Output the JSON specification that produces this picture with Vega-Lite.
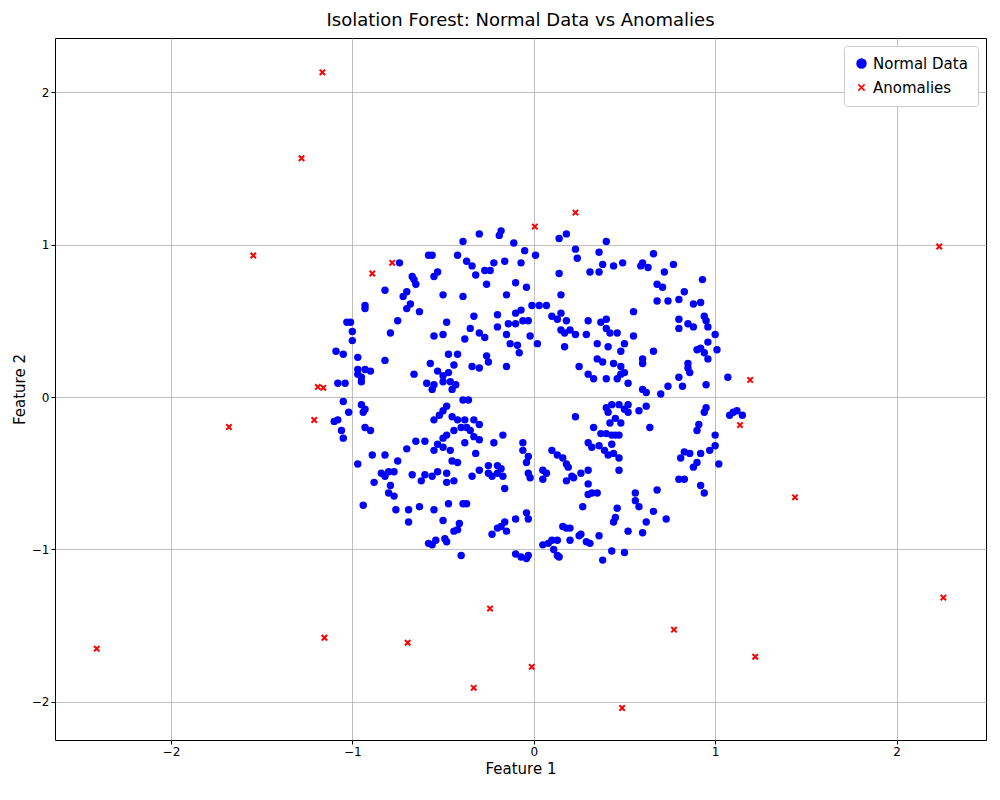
{
  "$schema": "https://vega.github.io/schema/vega-lite/v6.json",
  "width": 1000,
  "height": 800,
  "autosize": {"type": "fit", "contains": "padding"},
  "padding": {"left": 12, "right": 14, "top": 12, "bottom": 24},
  "background": "white",
  "title": {"text": "Isolation Forest: Normal Data vs Anomalies", "fontSize": 18, "fontWeight": "normal", "font": "DejaVu Sans", "color": "black", "offset": 8},
  "config": {
    "font": "DejaVu Sans",
    "view": {"stroke": "black", "strokeWidth": 1},
    "axis": {"grid": true, "gridColor": "#b0b0b0", "gridWidth": 0.8, "domain": false, "tickColor": "black", "labelFontSize": 12, "labelColor": "black", "titleFontSize": 15, "titleFontWeight": "normal", "titleColor": "black", "tickSize": 4, "format": "d"},
    "legend": {"orient": "top-right", "labelFontSize": 15, "title": null, "strokeColor": "#cccccc", "fillColor": "white", "padding": 10, "cornerRadius": 3, "symbolSize": 80, "rowPadding": 8, "offset": 8}
  },
  "datasets": {
    "normal": [
{"x":-0.39,"y":1.02},{"x":-0.3,"y":1.07},{"x":-0.19,"y":1.06},{"x":-0.18,"y":1.09},{"x":-0.11,"y":1.01},{"x":-0.05,"y":0.96},{"x":0.01,"y":0.93},{"x":0.14,"y":1.04},{"x":0.18,"y":1.07},{"x":0.23,"y":0.97},{"x":0.24,"y":0.91},{"x":0.4,"y":1.02},{"x":0.36,"y":0.95},{"x":0.38,"y":0.87},{"x":0.36,"y":0.82},{"x":0.44,"y":0.86},{"x":0.31,"y":0.82},{"x":0.14,"y":0.81},{"x":-0.07,"y":0.88},{"x":-0.22,"y":0.88},{"x":-0.16,"y":0.89},{"x":-0.34,"y":0.86},{"x":-0.32,"y":0.8},{"x":-0.27,"y":0.83},{"x":-0.42,"y":0.93},{"x":-0.37,"y":0.89},{"x":-0.58,"y":0.93},{"x":-0.56,"y":0.93},{"x":-0.53,"y":0.82},{"x":-0.67,"y":0.79},{"x":-0.74,"y":0.88},{"x":-0.82,"y":0.7},{"x":-0.7,"y":0.69},{"x":-0.72,"y":0.66},{"x":0.6,"y":0.88},{"x":0.66,"y":0.94},{"x":0.63,"y":0.85},{"x":0.72,"y":0.82},{"x":0.77,"y":0.87},{"x":0.49,"y":0.88},{"x":0.59,"y":0.86},
{"x":0.93,"y":0.77},{"x":0.8,"y":0.64},{"x":0.83,"y":0.69},{"x":0.88,"y":0.61},{"x":0.92,"y":0.62},{"x":0.95,"y":0.5},{"x":0.94,"y":0.53},{"x":0.96,"y":0.46},{"x":0.85,"y":0.48},{"x":0.88,"y":0.46},{"x":0.8,"y":0.45},{"x":0.8,"y":0.51},{"x":0.74,"y":0.63},{"x":0.68,"y":0.63},{"x":0.68,"y":0.74},{"x":0.71,"y":0.72},{"x":1.0,"y":0.41},{"x":1.01,"y":0.31},{"x":0.96,"y":0.36},{"x":0.92,"y":0.32},{"x":0.9,"y":0.31},{"x":0.96,"y":0.25},{"x":0.94,"y":0.29},{"x":0.85,"y":0.22},{"x":0.85,"y":0.19},{"x":0.86,"y":0.16},{"x":0.8,"y":0.13},{"x":0.82,"y":0.07},{"x":0.95,"y":0.08},{"x":0.74,"y":0.07},{"x":0.7,"y":0.02},{"x":1.07,"y":0.13},{"x":0.66,"y":0.3},{"x":0.6,"y":0.25},{"x":0.6,"y":0.22},{"x":0.6,"y":0.05},{"x":0.62,"y":0.03},{"x":0.55,"y":0.56},{"x":0.55,"y":0.4},{"x":0.5,"y":0.35},{"x":0.48,"y":0.3},{"x":0.46,"y":0.42},{"x":0.42,"y":0.42},{"x":0.4,"y":0.45},{"x":0.4,"y":0.51},{"x":0.37,"y":0.49},{"x":0.35,"y":0.35},{"x":0.41,"y":0.33},{"x":0.38,"y":0.23},{"x":0.44,"y":0.22},{"x":0.48,"y":0.2},{"x":0.48,"y":0.15},{"x":0.5,"y":0.16},{"x":0.46,"y":0.12},{"x":0.4,"y":0.12},{"x":0.33,"y":0.12},{"x":0.3,"y":0.15},{"x":0.29,"y":0.41},{"x":0.3,"y":0.5},{"x":0.23,"y":0.41},{"x":0.2,"y":0.44},{"x":0.17,"y":0.42},{"x":0.15,"y":0.44},{"x":0.13,"y":0.51},{"x":0.15,"y":0.55},{"x":0.18,"y":0.5},{"x":0.15,"y":0.67},{"x":0.1,"y":0.53},{"x":0.17,"y":0.33},{"x":0.25,"y":0.2},{"x":0.35,"y":0.25},{"x":0.52,"y":0.09},
{"x":1.1,"y":-0.1},{"x":1.12,"y":-0.09},{"x":1.15,"y":-0.12},{"x":1.08,"y":-0.12},{"x":1.0,"y":-0.25},{"x":1.0,"y":-0.32},{"x":0.97,"y":-0.35},{"x":1.02,"y":-0.44},{"x":0.94,"y":-0.1},{"x":0.95,"y":-0.07},{"x":0.91,"y":-0.18},{"x":0.9,"y":-0.22},{"x":0.92,"y":-0.37},{"x":0.9,"y":-0.43},{"x":0.88,"y":-0.46},{"x":0.92,"y":-0.58},{"x":0.94,"y":-0.63},{"x":0.83,"y":-0.54},{"x":0.8,"y":-0.54},{"x":0.81,"y":-0.4},{"x":0.83,"y":-0.36},{"x":0.86,"y":-0.37},{"x":0.73,"y":-0.8},{"x":0.68,"y":-0.61},{"x":0.66,"y":-0.75},{"x":0.62,"y":-0.82},{"x":0.6,"y":-0.89},{"x":0.58,"y":-0.72},{"x":0.56,"y":-0.68},{"x":0.56,"y":-0.63},{"x":0.64,"y":-0.2},{"x":0.62,"y":-0.06},{"x":0.58,"y":-0.09},
{"x":0.4,"y":-0.07},{"x":0.41,"y":-0.1},{"x":0.43,"y":-0.05},{"x":0.47,"y":-0.05},{"x":0.5,"y":-0.08},{"x":0.52,"y":-0.05},{"x":0.52,"y":-0.1},{"x":0.45,"y":-0.14},{"x":0.42,"y":-0.17},{"x":0.48,"y":-0.17},{"x":0.4,"y":-0.24},{"x":0.43,"y":-0.25},{"x":0.45,"y":-0.25},{"x":0.47,"y":-0.25},{"x":0.37,"y":-0.24},{"x":0.36,"y":-0.32},{"x":0.33,"y":-0.2},{"x":0.3,"y":-0.3},{"x":0.32,"y":-0.33},{"x":0.39,"y":-0.35},{"x":0.43,"y":-0.31},{"x":0.44,"y":-0.37},{"x":0.47,"y":-0.4},{"x":0.41,"y":-0.38},{"x":0.23,"y":-0.13},{"x":0.47,"y":-0.48},{"x":0.3,"y":-0.48},{"x":0.16,"y":-0.4},{"x":0.18,"y":-0.44},{"x":0.19,"y":-0.46},{"x":0.1,"y":-0.35},{"x":0.13,"y":-0.38},
{"x":0.05,"y":-0.54},{"x":0.07,"y":-0.5},{"x":0.05,"y":-0.48},{"x":0.18,"y":-0.55},{"x":0.21,"y":-0.52},{"x":0.26,"y":-0.5},{"x":0.3,"y":-0.57},{"x":0.3,"y":-0.64},{"x":0.32,"y":-0.63},{"x":0.35,"y":-0.63},{"x":0.27,"y":-0.72},{"x":0.46,"y":-0.73},{"x":0.44,"y":-0.82},{"x":0.45,"y":-0.79},{"x":0.52,"y":-0.88},{"x":0.36,"y":-0.91},{"x":0.31,"y":-0.96},{"x":0.29,"y":-0.95},{"x":0.25,"y":-0.91},{"x":0.26,"y":-0.9},{"x":0.16,"y":-0.85},{"x":0.18,"y":-0.86},{"x":0.2,"y":-0.94},{"x":0.13,"y":-0.94},{"x":0.13,"y":-1.04},{"x":0.14,"y":-1.05},{"x":0.11,"y":-1.0},{"x":0.1,"y":-0.94},{"x":0.05,"y":-0.97},{"x":0.08,"y":-0.96},{"x":0.2,"y":-0.86},{"x":0.38,"y":-1.07},{"x":0.43,"y":-1.01},{"x":0.5,"y":-1.02},{"x":0.22,"y":-0.53},
{"x":-0.03,"y":-1.04},{"x":-0.04,"y":-1.06},{"x":-0.07,"y":-1.05},{"x":-0.1,"y":-1.03},{"x":-0.03,"y":-0.8},{"x":-0.04,"y":-0.76},{"x":-0.1,"y":-0.8},{"x":-0.16,"y":-0.82},{"x":-0.18,"y":-0.85},{"x":-0.15,"y":-0.88},{"x":-0.2,"y":-0.86},{"x":-0.23,"y":-0.9},{"x":-0.16,"y":-0.6},{"x":-0.2,"y":-0.5},{"x":-0.18,"y":-0.47},{"x":-0.2,"y":-0.45},{"x":-0.25,"y":-0.45},{"x":-0.25,"y":-0.5},{"x":-0.23,"y":-0.52},{"x":-0.17,"y":-0.52},{"x":-0.22,"y":-0.3},{"x":-0.17,"y":-0.25},{"x":-0.03,"y":-0.5},{"x":-0.02,"y":-0.53},{"x":-0.04,"y":-0.43},{"x":-0.03,"y":-0.39},{"x":-0.06,"y":-0.3},{"x":-0.06,"y":-0.35},{"x":-0.37,"y":-0.7},{"x":-0.39,"y":-0.7},{"x":-0.47,"y":-0.7},{"x":-0.55,"y":-0.74},{"x":-0.5,"y":-0.81},{"x":-0.41,"y":-0.83},{"x":-0.42,"y":-0.87},{"x":-0.44,"y":-0.88},{"x":-0.49,"y":-0.93},{"x":-0.48,"y":-0.95},{"x":-0.54,"y":-0.94},{"x":-0.58,"y":-0.96},{"x":-0.56,"y":-0.97},{"x":-0.4,"y":-1.04},{"x":-0.48,"y":-0.56},{"x":-0.44,"y":-0.55},{"x":-0.48,"y":-0.5},{"x":-0.53,"y":-0.49},{"x":-0.56,"y":-0.52},{"x":-0.6,"y":-0.51},{"x":-0.62,"y":-0.55},{"x":-0.63,"y":-0.72},{"x":-0.67,"y":-0.51},{"x":-0.69,"y":-0.74},{"x":-0.69,"y":-0.82},{"x":-0.76,"y":-0.74},{"x":-0.77,"y":-0.65},{"x":-0.8,"y":-0.63},{"x":-0.79,"y":-0.58},{"x":-0.82,"y":-0.52},{"x":-0.8,"y":-0.49},{"x":-0.77,"y":-0.49},{"x":-0.84,"y":-0.5},{"x":-0.88,"y":-0.56},{"x":-0.82,"y":-0.38},{"x":-0.75,"y":-0.42},{"x":-0.7,"y":-0.34},{"x":-0.65,"y":-0.29},{"x":-0.6,"y":-0.29},{"x":-0.3,"y":-0.48},{"x":-0.34,"y":-0.52},
{"x":-1.05,"y":-0.27},{"x":-1.06,"y":-0.22},{"x":-1.08,"y":-0.15},{"x":-1.1,"y":-0.16},{"x":-1.02,"y":-0.1},{"x":-1.05,"y":-0.03},{"x":-0.97,"y":-0.44},{"x":-0.94,"y":-0.71},{"x":-0.93,"y":-0.2},{"x":-0.9,"y":-0.22},{"x":-0.89,"y":-0.38},{"x":-0.94,"y":-0.1},{"x":-0.93,"y":-0.08},{"x":-0.95,"y":-0.05},{"x":-1.04,"y":0.09},{"x":-1.08,"y":0.09},{"x":-1.05,"y":0.28},{"x":-1.09,"y":0.3},{"x":-1.0,"y":0.37},{"x":-1.0,"y":0.43},{"x":-1.03,"y":0.49},{"x":-1.01,"y":0.49},{"x":-0.93,"y":0.6},{"x":-0.93,"y":0.58},{"x":-0.97,"y":0.26},{"x":-0.97,"y":0.18},{"x":-0.97,"y":0.15},{"x":-0.93,"y":0.18},{"x":-0.9,"y":0.17},{"x":-0.95,"y":0.1},{"x":-0.95,"y":0.13},{"x":-0.82,"y":0.24},{"x":-0.79,"y":0.42},{"x":-0.75,"y":0.5},{"x":-0.7,"y":0.58},{"x":-0.68,"y":0.61},{"x":-0.63,"y":0.56},{"x":-0.66,"y":0.77},{"x":-0.65,"y":0.74},{"x":-0.55,"y":0.79},{"x":-0.48,"y":0.49},{"x":-0.5,"y":0.41},{"x":-0.55,"y":0.4},{"x":-0.57,"y":0.22},{"x":-0.66,"y":0.15},{"x":-0.59,"y":0.09},{"x":-0.55,"y":0.08},{"x":-0.56,"y":0.05},{"x":-0.53,"y":0.17},{"x":-0.5,"y":0.14},{"x":-0.47,"y":0.16},{"x":-0.44,"y":0.21},{"x":-0.47,"y":0.28},{"x":-0.42,"y":0.28},{"x":-0.38,"y":0.38},{"x":-0.35,"y":0.45},{"x":-0.33,"y":0.53},{"x":-0.3,"y":0.42},{"x":-0.27,"y":0.39},{"x":-0.3,"y":0.19},{"x":-0.34,"y":0.2},{"x":-0.25,"y":0.23},{"x":-0.26,"y":0.27},{"x":-0.2,"y":0.46},{"x":-0.2,"y":0.54},{"x":-0.15,"y":0.41},{"x":-0.14,"y":0.48},{"x":-0.1,"y":0.48},{"x":-0.1,"y":0.55},{"x":-0.06,"y":0.5},{"x":-0.07,"y":0.57},{"x":-0.03,"y":0.5},{"x":-0.01,"y":0.6},{"x":0.03,"y":0.6},{"x":0.07,"y":0.6},{"x":-0.13,"y":0.35},{"x":-0.09,"y":0.34},{"x":-0.08,"y":0.29},{"x":-0.15,"y":0.2},{"x":-0.02,"y":0.4},{"x":0.02,"y":0.35},{"x":-0.15,"y":0.67},{"x":-0.1,"y":0.75},{"x":-0.04,"y":0.72},{"x":-0.26,"y":0.74},{"x":-0.24,"y":0.83},{"x":-0.39,"y":0.66},{"x":-0.5,"y":0.67},
{"x":-0.55,"y":-0.15},{"x":-0.52,"y":-0.12},{"x":-0.5,"y":-0.09},{"x":-0.48,"y":-0.06},{"x":-0.45,"y":-0.13},{"x":-0.42,"y":-0.15},{"x":-0.4,"y":-0.2},{"x":-0.44,"y":-0.22},{"x":-0.48,"y":-0.25},{"x":-0.5,"y":-0.27},{"x":-0.53,"y":-0.31},{"x":-0.55,"y":-0.35},{"x":-0.5,"y":-0.33},{"x":-0.46,"y":-0.35},{"x":-0.45,"y":-0.42},{"x":-0.42,"y":-0.43},{"x":-0.38,"y":-0.3},{"x":-0.35,"y":-0.22},{"x":-0.33,"y":-0.26},{"x":-0.3,"y":-0.28},{"x":-0.32,"y":-0.37},{"x":-0.36,"y":-0.02},{"x":-0.37,"y":-0.2},{"x":-0.33,"y":-0.15},{"x":-0.3,"y":-0.18},{"x":-0.38,"y":-0.15},{"x":-0.45,"y":0.05},{"x":-0.43,"y":0.08},{"x":-0.46,"y":0.1},{"x":-0.5,"y":0.1},{"x":-0.39,"y":-0.02}
    ],
    "anomalies": [
{"x":-1.165,"y":2.13},{"x":-1.28,"y":1.566},{"x":-1.546,"y":0.928},{"x":-0.89,"y":0.81},{"x":-0.78,"y":0.88},{"x":0.006,"y":1.118},{"x":0.23,"y":1.21},{"x":2.235,"y":0.987},{"x":-1.19,"y":0.066},{"x":-1.16,"y":0.06},{"x":-1.68,"y":-0.197},{"x":-1.21,"y":-0.151},{"x":1.193,"y":0.112},{"x":1.137,"y":-0.184},{"x":1.44,"y":-0.658},{"x":2.258,"y":-1.316},{"x":-2.409,"y":-1.651},{"x":-1.154,"y":-1.579},{"x":-0.695,"y":-1.612},{"x":-0.241,"y":-1.388},{"x":-0.011,"y":-1.77},{"x":-0.331,"y":-1.908},{"x":0.487,"y":-2.04},{"x":0.773,"y":-1.526},{"x":1.221,"y":-1.704}
    ]
  },
  "layer": [
    {
      "data": {"name": "normal"},
      "transform": [{"calculate": "'Normal Data'", "as": "series"}],
      "mark": {"type": "point", "filled": true, "size": 55, "opacity": 1},
      "encoding": {
        "x": {"field": "x", "type": "quantitative", "title": "Feature 1", "scale": {"domain": [-2.639, 2.493], "nice": false, "zero": false}, "axis": {"values": [-2, -1, 0, 1, 2]}},
        "y": {"field": "y", "type": "quantitative", "title": "Feature 2", "scale": {"domain": [-2.25, 2.355], "nice": false, "zero": false}, "axis": {"values": [-2, -1, 0, 1, 2]}},
        "color": {"field": "series", "type": "nominal", "scale": {"domain": ["Normal Data", "Anomalies"], "range": ["#0000ff", "#ff0000"]}},
        "shape": {"field": "series", "type": "nominal", "scale": {"domain": ["Normal Data", "Anomalies"], "range": ["circle", "M-0.7,-0.7L0.7,0.7M0.7,-0.7L-0.7,0.7"]}}
      }
    },
    {
      "data": {"name": "anomalies"},
      "transform": [{"calculate": "'Anomalies'", "as": "series"}],
      "mark": {"type": "point", "filled": false, "size": 60, "strokeWidth": 2, "opacity": 1},
      "encoding": {
        "x": {"field": "x", "type": "quantitative"},
        "y": {"field": "y", "type": "quantitative"},
        "color": {"field": "series", "type": "nominal"},
        "shape": {"field": "series", "type": "nominal"}
      }
    }
  ]
}
